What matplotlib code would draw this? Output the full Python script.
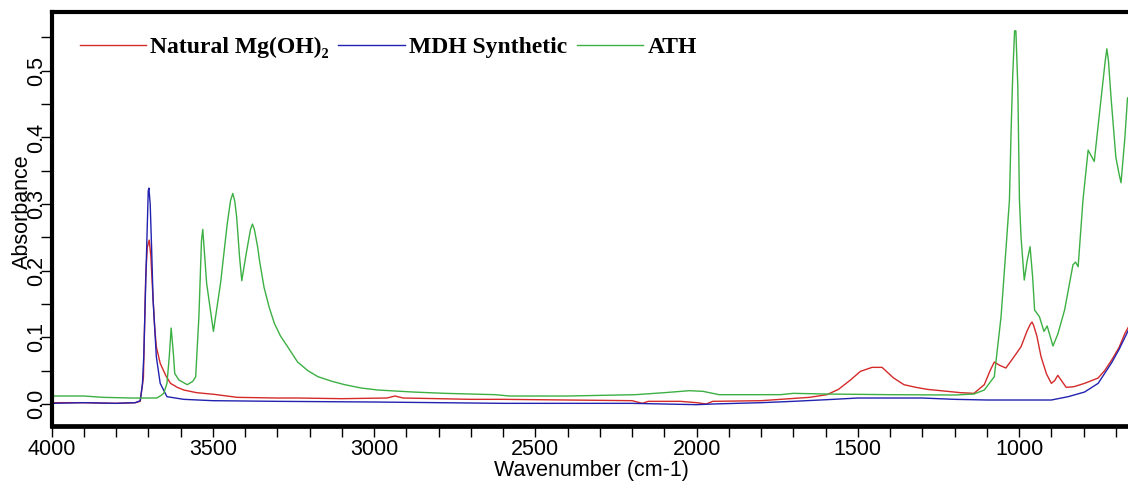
import matplotlib
matplotlib.use("Agg")
import matplotlib.pyplot as plt
from matplotlib.ticker import MultipleLocator, FormatStrFormatter

# ---- spectra (wavenumber in cm-1, absorbance) ----
natural_wn = [4000, 3900, 3800, 3740, 3725, 3715, 3708, 3703, 3697, 3692, 3686,
              3680, 3675, 3663, 3645, 3631, 3610, 3590, 3550, 3496, 3424, 3300,
              3237, 3100, 2960, 2935, 2910, 2800, 2700, 2600, 2400, 2200, 2168,
              2150, 2050, 2000, 1970, 1950, 1800, 1710, 1650, 1596, 1560, 1523,
              1492, 1456, 1425, 1389, 1357, 1320, 1285, 1181, 1140, 1108, 1090,
              1077, 1060, 1041, 1020, 994, 975, 965, 960, 955, 945, 932, 915,
              900, 890, 880, 870, 854, 830, 797, 755, 735, 713, 690, 672, 650]
natural_abs = [0.002, 0.002, 0.001, 0.002, 0.004, 0.040, 0.190, 0.235, 0.246,
               0.222, 0.165, 0.115, 0.086, 0.061, 0.042, 0.031, 0.025, 0.021,
               0.017, 0.0145, 0.010, 0.009, 0.009, 0.008, 0.009, 0.012, 0.009,
               0.008, 0.007, 0.007, 0.006, 0.005, 0.001, 0.004, 0.004, 0.002,
               0.000, 0.004, 0.005, 0.008, 0.010, 0.014, 0.022, 0.036, 0.049,
               0.055, 0.055, 0.039, 0.029, 0.025, 0.022, 0.017, 0.016, 0.029,
               0.050, 0.063, 0.058, 0.054, 0.068, 0.086, 0.110, 0.120, 0.123,
               0.118, 0.102, 0.071, 0.045, 0.031, 0.035, 0.043, 0.036, 0.025,
               0.026, 0.031, 0.039, 0.050, 0.066, 0.085, 0.106, 0.125]

synthetic_wn = [4000, 3900, 3800, 3740, 3725, 3718, 3714, 3706, 3700, 3698, 3694,
                3690, 3685, 3675, 3663, 3642, 3590, 3500, 3300, 3000, 2800, 2600,
                2400, 2200, 2100, 2000, 1950, 1800, 1700, 1576, 1500, 1300, 1200,
                1100, 900, 848, 797, 755, 713, 690, 661, 650]
synthetic_abs = [0.001, 0.002, 0.001, 0.002, 0.005, 0.030, 0.071, 0.216, 0.320,
                 0.324, 0.300, 0.240, 0.156, 0.071, 0.031, 0.011, 0.007, 0.005,
                 0.004, 0.003, 0.002, 0.001, 0.001, 0.001, 0.000, -0.001, 0.000,
                 0.002, 0.004, 0.007, 0.009, 0.009, 0.007, 0.006, 0.006, 0.011,
                 0.018, 0.031, 0.062, 0.082, 0.111, 0.118]

ath_wn = [4000, 3900, 3840, 3750, 3700, 3673, 3660, 3652, 3642, 3635, 3629, 3622,
          3618, 3605, 3579, 3562, 3553, 3543, 3535, 3531, 3527, 3519, 3498, 3476,
          3455, 3445, 3438, 3432, 3426, 3417, 3410, 3398, 3383, 3377, 3371, 3361,
          3355, 3341, 3325, 3309, 3290, 3268, 3237, 3205, 3174, 3130, 3091, 3040,
          2988, 2880, 2780, 2624, 2580, 2400, 2190, 2100, 2022, 1980, 1930, 1740,
          1700, 1600, 1400, 1200, 1140, 1108, 1077, 1056, 1041, 1030, 1025, 1020,
          1014, 1010, 1004, 999, 994, 984, 975, 966, 958, 952, 937, 923, 913, 895,
          880, 859, 833, 825, 817, 802, 786, 776, 767, 750, 733, 728, 723, 715,
          700, 690, 684, 672, 664, 650]
ath_abs = [0.012, 0.012, 0.010, 0.009, 0.009, 0.009, 0.013, 0.016, 0.031, 0.070,
           0.114, 0.075, 0.046, 0.036, 0.029, 0.034, 0.041, 0.131, 0.245, 0.262,
           0.235, 0.181, 0.109, 0.181, 0.271, 0.305, 0.316, 0.305, 0.281, 0.221,
           0.185, 0.221, 0.262, 0.270, 0.262, 0.236, 0.215, 0.175, 0.145, 0.121,
           0.102, 0.086, 0.063, 0.050, 0.041, 0.034, 0.029, 0.024, 0.021, 0.018,
           0.016, 0.014, 0.012, 0.012, 0.014, 0.017, 0.020, 0.019, 0.014, 0.014,
           0.016, 0.015, 0.014, 0.0135, 0.015, 0.021, 0.041, 0.131, 0.231, 0.306,
           0.407, 0.491, 0.560, 0.560, 0.476, 0.306, 0.250, 0.186, 0.215, 0.236,
           0.190, 0.141, 0.131, 0.109, 0.117, 0.087, 0.105, 0.141, 0.209, 0.213,
           0.206, 0.306, 0.381, 0.372, 0.364, 0.440, 0.515, 0.533, 0.515, 0.460,
           0.370, 0.345, 0.332, 0.400, 0.459, 0.465]

series_labels = ["Natural Mg(OH)\u2082", "MDH Synthetic", "ATH"]
series_colors = ["#d42a2a", "#2222b0", "#3cb043"]

x_label = "Wavenumber (cm-1)"
y_label = "Absorbance"

plt.rcParams["font.family"] = ["Liberation Sans", "DejaVu Sans"]

W, H = 1128, 484
fig = plt.figure(figsize=(W / 100, H / 100), dpi=100)
left_px, right_px, top_px, bottom_px = 51.5, 1132, 11.5, 426
ax = fig.add_axes([left_px / W, (H - bottom_px) / H,
                   (right_px - left_px) / W, (bottom_px - top_px) / H])

for wn, ab, lab, col in zip([natural_wn, synthetic_wn, ath_wn],
                            [natural_abs, synthetic_abs, ath_abs],
                            series_labels, series_colors):
    ax.plot(wn, ab, color=col, lw=1.0, label=lab)

ax.set_xlim(4000, 650)
ax.set_ylim(-0.033, 0.589)

ax.xaxis.set_major_locator(MultipleLocator(500))
ax.xaxis.set_minor_locator(MultipleLocator(100))
ax.yaxis.set_major_locator(MultipleLocator(0.1))
ax.yaxis.set_minor_locator(MultipleLocator(0.05))
ax.yaxis.set_major_formatter(FormatStrFormatter("%.1f"))

ax.tick_params(axis="both", which="both", direction="out", length=8, width=1.0,
               color="black")
ax.tick_params(axis="x", labelsize=15.5, pad=1.5)
ax.tick_params(axis="y", labelsize=15.5, pad=-5)
for t in ax.get_yticklabels():
    t.set_rotation(90)
    t.set_va("center")

for side in ("left", "top", "bottom"):
    ax.spines[side].set_linewidth(3.0)
ax.spines["bottom"].set_linewidth(3.4)
ax.spines["right"].set_visible(False)

ax.set_xlabel(x_label, fontsize=15.5, labelpad=0)
ax.set_ylabel(y_label, fontsize=15.5)
ax.yaxis.set_label_coords(-0.017, 0.517)

leg = ax.legend(loc="center left", bbox_to_anchor=(0.015, 0.914), ncol=3,
                frameon=False, borderpad=0, handlelength=2.8,
                handletextpad=0.2, columnspacing=0.4,
                prop={"family": ["Liberation Serif", "DejaVu Serif"],
                      "weight": "bold", "size": 17})

fig.savefig("out.png", dpi=100)
